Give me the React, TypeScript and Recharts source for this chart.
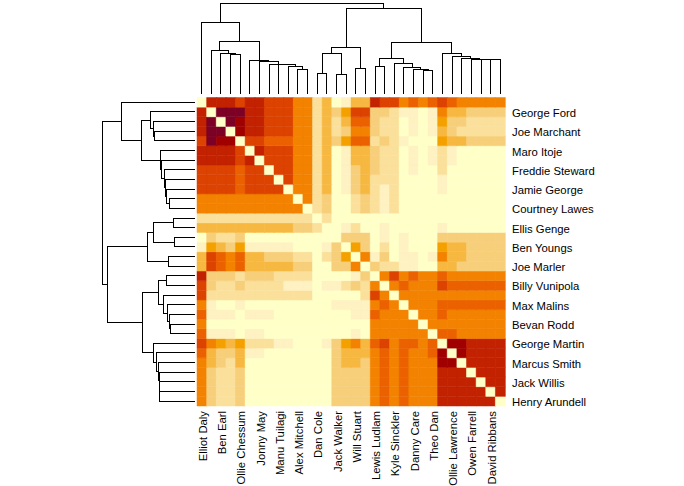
import { BarChart, Bar, Cell, XAxis, YAxis, ScatterChart, Scatter } from 'recharts';

// players in dendrogram order (same for rows and columns)
const PLAYERS = [
  'Elliot Daly', 'George Ford', 'Ben Earl', 'Joe Marchant', 'Ollie Chessum', 'Maro Itoje',
  'Jonny May', 'Freddie Steward', 'Manu Tuilagi', 'Jamie George', 'Alex Mitchell', 'Courtney Lawes',
  'Dan Cole', 'Ellis Genge', 'Jack Walker', 'Ben Youngs', 'Will Stuart', 'Joe Marler',
  'Lewis Ludlam', 'Billy Vunipola', 'Kyle Sinckler', 'Max Malins', 'Danny Care', 'Bevan Rodd',
  'Theo Dan', 'George Martin', 'Ollie Lawrence', 'Marcus Smith', 'Owen Farrell', 'Jack Willis',
  'David Ribbans', 'Henry Arundell',
];

// 12 colour classes, light (0) to dark (b)
const LEVEL_COLORS = [
  '#FFFFC8', '#FEF1C2', '#FAE09B', '#F7CF7B', '#F7B842', '#F4A100',
  '#F38200', '#EB6100', '#DC4200', '#C22200', '#A00000', '#7D0025',
];

// symmetric matrix, upper triangle: row i lists classes for columns i..31
const UPPER = [
  '0999 8 99 888 66 24 01 44 9 88 6 76787 66666',
  '0 bbb 99 888 6 6 2 4 3 5 88 33 2 1 1 0 1 6 44 3333',
  '0 b a 99 888 6 6 2 4 2 4 77 3 22 0 1 0 1 5 33 2222',
  '0 a 99 888 6 6 2 4 2 3 66 3 22 0 1 0 1 4 3 22222',
  '0 88 777 6 6 2 4 3 5 77 2 3 2 1 000 5 44 3333',
  '0 9 888 6 6 2 4 0 1 44 3 22 0 1 0 1 2 1 00000',
  '0 888 6 6 2 4 0 1 44 3 22 0 1 0 1 2 1 00000',
  '0 88 6 6 2 4 0 1 3 4 3 22 0 1 0 0 2 000000',
  '0 8 6 6 2 4 0 1 3 4 2 2 2 0 000 1 000000',
  '0 6 6 2 4 0 1 3 4 2 1 2 0 000 1 000000',
  '0 6 2 3 0 0 2 3 2 1 2 00000000000',
  '0 2 3 0 0 2 3 2 1 2 0 0000000000',
  '02 000000 000000 000000',
  '0 0 1 2 0 0 1 0 0 000 1 000000',
  '0 333 0 1 0 1 000 3333333',
  '0 5 3 0 2 0 1 000 5 44 3333',
  '0 6 1 3 0 1 1 0 1 6 44 3333',
  '0 3 2 2 1 1 0 0 44 33333',
  '0 6 8 6 7 66 7 666666',
  '0 6 7 666 8 777777',
  '0 6 6666666666',
  '0 666 7777777',
  '0 66 7 666666',
  '0 66666666',
  '0 77 66666',
  '0 aa 9999',
  '0 a 9999',
  '0 9999',
  '0 999',
  '0 99',
  '0 9',
  '0',
];

// hierarchical clustering merges: [id, left, right, height]; numbers are leaves
const MERGES: [string, number | string, number | string, number][] = [
  ['F', 3, 4, 1.19],
  ['E', 2, 'F', 1.22],
  ['C', 1, 'E', 1.31],
  ['K', 10, 11, 0.74],
  ['J', 9, 'K', 0.83],
  ['I', 8, 'J', 0.88],
  ['H', 7, 'I', 0.89],
  ['G', 6, 'H', 0.98],
  ['D', 5, 'G', 1.01],
  ['B', 'C', 'D', 1.58],
  ['A', 0, 'B', 2.15],
  ['U1', 12, 13, 0.62],
  ['U2', 14, 15, 0.59],
  ['U', 'U1', 'U2', 1.22],
  ['V', 16, 17, 0.77],
  ['S', 'U', 'V', 1.4],
  ['W1', 18, 19, 0.83],
  ['Y4', 23, 24, 0.71],
  ['Y3', 22, 'Y4', 0.74],
  ['Y2', 21, 'Y3', 0.8],
  ['Y1', 20, 'Y2', 0.92],
  ['W', 'W1', 'Y1', 1.07],
  ['X5', 30, 31, 1.035],
  ['X4', 29, 'X5', 1.04],
  ['X3', 28, 'X4', 1.045],
  ['X2', 27, 'X3', 1.07],
  ['X1', 26, 'X2', 1.13],
  ['X', 25, 'X1', 1.22],
  ['T', 'W', 'X', 1.55],
  ['R', 'S', 'T', 2.57],
  ['root', 'A', 'R', 2.72],
];

const MAX_H = 2.72;
const N = PLAYERS.length;
const FONT = '"Liberation Sans", Arial, sans-serif';
const FS = 11.3;

const upperRows = UPPER.map((s) => s.replace(/ /g, ''));
function level(i: number, j: number): number {
  const a = Math.min(i, j);
  const b = Math.max(i, j);
  return parseInt(upperRows[a][b - a], 16);
}

// one bracket (4 points) per merge
function brackets() {
  const pos: Record<string, number> = {};
  const ht: Record<string, number> = {};
  PLAYERS.forEach((_, i) => {
    pos[String(i)] = i;
    ht[String(i)] = 0;
  });
  return MERGES.map(([id, a, b, h]) => {
    const pa = pos[String(a)];
    const pb = pos[String(b)];
    pos[id] = (pa + pb) / 2;
    ht[id] = h;
    return [
      { p: pa, h: ht[String(a)] },
      { p: pa, h },
      { p: pb, h },
      { p: pb, h: ht[String(b)] },
    ];
  });
}

const heatData = PLAYERS.map((name) => {
  const d: Record<string, string | number> = { name };
  PLAYERS.forEach((_, i) => {
    d['r' + i] = 1;
  });
  return d;
});

const rowTicks = PLAYERS.map((_, i) => i).filter((i) => i % 2 === 1).map((i) => N - 0.5 - i);

const ColTick = (props: any) => {
  const { x, y, payload, index } = props;
  if (index % 2 !== 0) return <g />;
  const ty = y + 5;
  return (
    <text
      x={x + 1}
      y={ty}
      transform={`rotate(-90 ${x + 1} ${ty})`}
      textAnchor="end"
      dominantBaseline="central"
      fontSize={FS}
      fontFamily={FONT}
      fill="#000"
    >
      {payload.value}
    </text>
  );
};

const RowTick = (props: any) => {
  const { x, y, payload } = props;
  const name = PLAYERS[Math.round(N - 0.5 - payload.value)];
  return (
    <text x={x + 7} y={y + 1} textAnchor="start" dominantBaseline="central" fontSize={FS} fontFamily={FONT} fill="#000">
      {name}
    </text>
  );
};

const noShape = () => <g />;
const lineStyle = { stroke: '#000', strokeWidth: 1, shapeRendering: 'crispEdges' };

export default function App() {
  const br = brackets();
  const rowOrder = PLAYERS.map((_, i) => i).reverse();
  return (
    <div style={{ position: 'absolute', left: 0, top: 0, width: 684, height: 486, background: '#fff' }}>
      <div style={{ position: 'absolute', left: 0, top: 0 }}>
        <BarChart
          width={684}
          height={486}
          data={heatData}
          barCategoryGap={0}
          barGap={0}
          margin={{ top: 97.5, left: 197, right: 59, bottom: 5 }}
        >
          <XAxis
            dataKey="name"
            interval={0}
            height={75}
            tickLine={false}
            axisLine={false}
            tickSize={0}
            tickMargin={0}
            tick={<ColTick />}
          />
          <YAxis
            orientation="right"
            type="number"
            domain={[0, N]}
            ticks={rowTicks}
            interval={0}
            width={120}
            tickLine={false}
            axisLine={false}
            tickSize={0}
            tickMargin={0}
            tick={<RowTick />}
          />
          {rowOrder.map((i) => (
            <Bar key={i} dataKey={'r' + i} stackId="m" isAnimationActive={false}>
              {PLAYERS.map((_, j) => {
                const c = LEVEL_COLORS[level(i, j)];
                return <Cell key={j} fill={c} stroke={c} strokeWidth={0.5} />;
              })}
            </Bar>
          ))}
        </BarChart>
      </div>
      <div style={{ position: 'absolute', left: 0, top: 0 }}>
        <ScatterChart width={684} height={486} margin={{ top: 3.3, left: 196.85, right: 178.9, bottom: 392 }}>
          <XAxis type="number" dataKey="p" domain={[-0.5, N - 0.5]} hide />
          <YAxis type="number" dataKey="h" domain={[0, MAX_H]} hide />
          {br.map((pts, k) => (
            <Scatter key={k} data={pts} line={lineStyle} lineType="joint" shape={noShape} isAnimationActive={false} />
          ))}
        </ScatterChart>
      </div>
      <div style={{ position: 'absolute', left: 0, top: 0 }}>
        <ScatterChart width={684} height={486} margin={{ top: 97.5, left: 102.3, right: 489, bottom: 80 }}>
          <XAxis type="number" dataKey="h" domain={[0, MAX_H]} reversed hide />
          <YAxis type="number" dataKey="p" domain={[-0.5, N - 0.5]} reversed hide />
          {br.map((pts, k) => (
            <Scatter key={k} data={pts} line={lineStyle} lineType="joint" shape={noShape} isAnimationActive={false} />
          ))}
        </ScatterChart>
      </div>
    </div>
  );
}
